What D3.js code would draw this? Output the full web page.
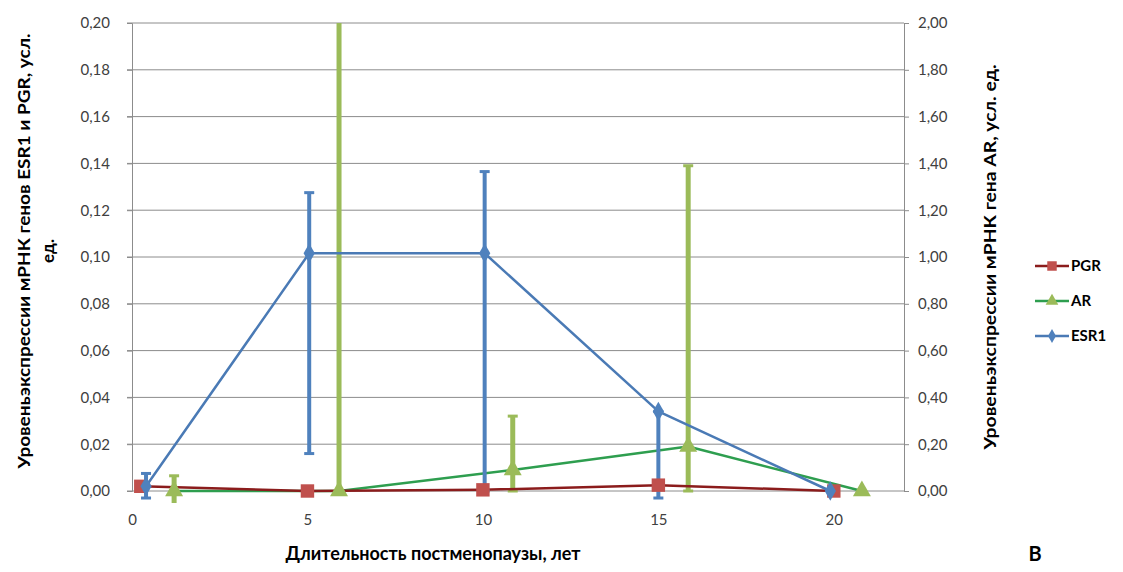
<!DOCTYPE html>
<html lang="ru">
<head>
<meta charset="UTF-8">
<title>PGR, AR, ESR1</title>
<script src="https://d3js.org/d3.v7.min.js"></script>
<style>
  body { margin: 0; background: #fff; }
  text { font-family: Lato, "Open Sans", sans-serif; }
  .tick text { fill: #404040; font-size: 15px; }
  .ttl { font-weight: bold; fill: #000; }
</style>
</head>
<body>
<svg width="1123" height="572"></svg>
<script>
// values
const pgrX = [0.25, 5, 10, 15, 20];
const pgrY = [0.002, 0, 0.0005, 0.0025, 0];

const arX = [1.2, 5.9, 10.85, 15.85, 20.8];
const arY = [0, 0, 0.09, 0.19, 0];
const arLo = [-0.06, 0, 0, 0, 0];
const arHi = [0.065, 2.4, 0.32, 1.39, 0];

const esrX = [0.4, 5.05, 10.05, 15, 19.9];
const esrY = [0.002, 0.1016, 0.1016, 0.034, 0];
const esrLo = [-0.003, 0.016, 0, -0.003, 0];
const esrHi = [0.0075, 0.1275, 0.1365, 0.034, 0];

const xTicks = [0, 5, 10, 15, 20];
const yLeftTicks = d3.range(0, 0.2001, 0.02);
const yRightTicks = d3.range(0, 2.001, 0.2);

const svg = d3.select("svg");
const pLeft = 132, pRight = 904, pTop = 23, pBottom = 491;

const x = d3.scaleLinear().domain([0, 22]).range([pLeft, pRight]);
const yL = d3.scaleLinear().domain([0, 0.2]).range([pBottom, pTop]);
const yR = d3.scaleLinear().domain([0, 2]).range([pBottom, pTop]);

const fmt = v => d3.format(".2f")(v).replace(".", ",");

// gridlines
svg.append("g").selectAll("line").data(yLeftTicks).enter().append("line")
  .attr("x1", pLeft - 5).attr("x2", pRight)
  .attr("y1", d => yL(d)).attr("y2", d => yL(d))
  .attr("stroke", "#8c8c8c").attr("stroke-width", 1);

// axes
const axL = svg.append("g").attr("transform", `translate(${pLeft},0)`)
  .call(d3.axisLeft(yL).tickValues(yLeftTicks).tickFormat(fmt).tickSize(5).tickPadding(17));
const axR = svg.append("g").attr("transform", `translate(${pRight},0)`)
  .call(d3.axisRight(yR).tickValues(yRightTicks).tickFormat(fmt).tickSize(5).tickPadding(9));
const axX = svg.append("g").attr("transform", `translate(0,${pBottom})`)
  .call(d3.axisBottom(x).tickValues(xTicks).tickSize(0).tickPadding(23));
[axL, axR, axX].forEach(a => {
  a.selectAll("path,line").attr("stroke", "#8c8c8c");
});
axX.select(".domain").remove();

// clip for error bars going beyond plot
svg.append("clipPath").attr("id", "clip").append("rect")
  .attr("x", pLeft - 20).attr("y", pTop).attr("width", pRight - pLeft + 40).attr("height", pBottom - pTop + 12);
const plot = svg.append("g").attr("clip-path", "url(#clip)");

function errBars(xs, lo, hi, ys, col, w) {
  const g = plot.append("g");
  xs.forEach((xv, i) => {
    if (hi[i] === lo[i]) return;
    g.append("line").attr("x1", x(xv)).attr("x2", x(xv))
      .attr("y1", ys(lo[i])).attr("y2", ys(hi[i]))
      .attr("stroke", col).attr("stroke-width", w);
    [lo[i], hi[i]].forEach(v => {
      g.append("line").attr("x1", x(xv) - 5).attr("x2", x(xv) + 5)
        .attr("y1", ys(v)).attr("y2", ys(v))
        .attr("stroke", col).attr("stroke-width", 3);
    });
  });
}

function line(xs, vs, ys, col, w) {
  const pts = xs.map((d, i) => [d, vs[i]]);
  plot.append("path").datum(pts)
    .attr("d", d3.line().x(d => x(d[0])).y(d => ys(d[1])))
    .attr("fill", "none").attr("stroke", col).attr("stroke-width", w)
    .attr("stroke-linejoin", "round");
}

function markers(xs, vs, ys, type, size, col) {
  plot.append("g").selectAll("path").data(xs.map((d, i) => [d, vs[i]])).enter()
    .append("path")
    .attr("d", d3.symbol().type(type).size(size))
    .attr("transform", d => `translate(${x(d[0])},${ys(d[1])})`)
    .attr("fill", col);
}

errBars(arX, arLo, arHi, yR, "#9bbb59", 5);
line(arX, arY, yR, "#2e9e4f", 2.5);
line(pgrX, pgrY, yL, "#8b1c1c", 2.5);
errBars(esrX, esrLo, esrHi, yL, "#4f81bd", 4);
line(esrX, esrY, yL, "#4a7ab5", 2.5);
markers(arX, arY, yR, d3.symbolTriangle, 140, "#9bbb59");
markers(pgrX, pgrY, yL, d3.symbolSquare, 180, "#c0504d");
markers(esrX, esrY, yL, d3.symbolDiamond, 110, "#4f81bd");

// titles
svg.append("text").attr("class", "ttl").attr("font-size", 18)
  .attr("x", 433).attr("y", 560).attr("text-anchor", "middle")
  .text("Длительность постменопаузы, лет");
svg.append("text").attr("class", "ttl").attr("font-size", 20)
  .attr("x", 1035).attr("y", 561).attr("text-anchor", "middle").text("В");

svg.append("text").attr("class", "ttl").attr("font-size", 17)
  .attr("transform", "translate(30,251) rotate(-90)").attr("text-anchor", "middle")
  .attr("textLength", 435).attr("lengthAdjust", "spacingAndGlyphs")
  .text("Уровеньэкспрессии мРНК генов ESR1 и PGR,  усл.");
svg.append("text").attr("class", "ttl").attr("font-size", 17)
  .attr("transform", "translate(54,251) rotate(-90)").attr("text-anchor", "middle")
  .text("ед.");
svg.append("text").attr("class", "ttl").attr("font-size", 17)
  .attr("transform", "translate(996,257) rotate(-90)").attr("text-anchor", "middle")
  .attr("textLength", 385).attr("lengthAdjust", "spacingAndGlyphs")
  .text("Уровеньэкспрессии мРНК гена AR,  усл. ед.");

// legend
const legend = [
  { name: "PGR", line: "#8b1c1c", fill: "#c0504d", sym: d3.symbolSquare, size: 90 },
  { name: "AR", line: "#2e9e4f", fill: "#9bbb59", sym: d3.symbolTriangle, size: 70 },
  { name: "ESR1", line: "#4a7ab5", fill: "#4f81bd", sym: d3.symbolDiamond, size: 55 }
];
const lg = svg.append("g").selectAll("g").data(legend).enter().append("g")
  .attr("transform", (d, i) => `translate(1035,${266 + i * 35})`);
lg.append("line").attr("x1", 0).attr("x2", 34).attr("stroke", d => d.line).attr("stroke-width", 2.5);
lg.append("path").attr("d", d => d3.symbol().type(d.sym).size(d.size)())
  .attr("transform", "translate(17,0)").attr("fill", d => d.fill);
lg.append("text").attr("class", "ttl").attr("font-size", 15)
  .attr("x", 36).attr("y", 5).text(d => d.name);
</script>
</body>
</html>
